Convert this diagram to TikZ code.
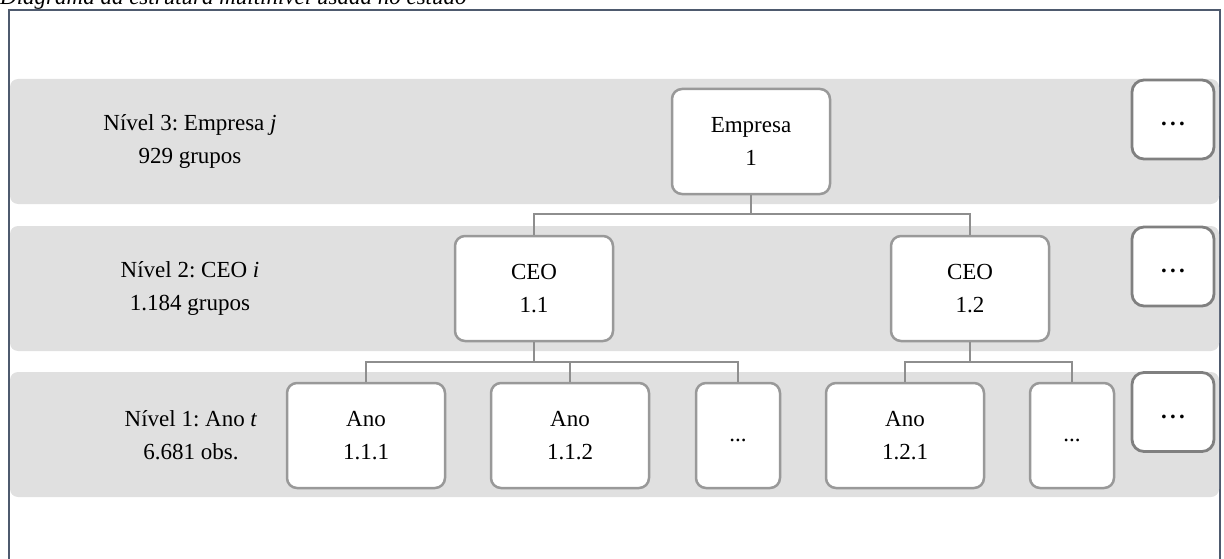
\documentclass[tikz,border=0pt]{standalone}
\usepackage{fontspec}
\setmainfont{Liberation Serif}
\frenchspacing
\begin{document}
\begin{tikzpicture}[x=1pt,y=-1pt,
  band/.style={fill=bandgray,rounded corners=8pt},
  unit/.style={draw=boxgray,line width=2.5pt,fill=white,rounded corners=10pt,
    minimum width=158pt,minimum height=105pt,inner sep=0pt,align=center,
    font=\fontsize{23}{33}\selectfont},
  dotbox/.style={unit,minimum width=84pt},
  morebox/.style={draw=moregray,line width=2.8pt,fill=white,rounded corners=12pt,
    minimum width=82pt,minimum height=79pt,inner sep=0pt,
    font=\fontsize{23}{33}\selectfont},
  lvl/.style={align=center,inner sep=0pt,font=\fontsize{23}{33}\selectfont},
  conn/.style={draw=linegray,line width=2.4pt}]
\definecolor{bandgray}{HTML}{E0E0E0}
\definecolor{boxgray}{HTML}{999999}
\definecolor{moregray}{HTML}{808080}
\definecolor{linegray}{HTML}{8E8E8E}
\definecolor{framecol}{HTML}{4E5A6E}
\useasboundingbox (0,0) rectangle (1224,559);
% title (partly cut off)
\node[anchor=base west,inner sep=0pt,font=\fontsize{23}{28}\selectfont\itshape] (title) at (0,4.5)
  {Diagrama da estrutura multinível usada no estudo};
% frame
\draw[draw=framecol,line width=2pt] (9,10) rectangle (1220,640);
% bands
\fill[band] (10,79) rectangle (1219,204);
\fill[band] (10,226) rectangle (1219,351);
\fill[band] (10,372) rectangle (1219,497);
% level labels
\node[lvl] (lab3) at (190,141.5) {Nível 3: Empresa \textit{j}\\929 grupos};
\node[lvl] (lab2) at (190,288.5) {Nível 2: CEO \textit{i}\\1.184 grupos};
\node[lvl] (lab1) at (191,435) {Nível 1: Ano \textit{t}\\6.681 obs.};
% nodes
\node[unit] (emp) at (751,141.5) {Empresa\\1};
\node[unit] (ceo1) at (534,288.5) {CEO\\1.1};
\node[unit] (ceo2) at (970,288.5) {CEO\\1.2};
\node[unit] (a111) at (366,435.5) {Ano\\1.1.1};
\node[unit] (a112) at (570,435.5) {Ano\\1.1.2};
\node[dotbox] (d11) at (738,435.5) {\raisebox{-6pt}[0pt][0pt]{...}};
\node[unit] (a121) at (905,435.5) {Ano\\1.2.1};
\node[dotbox] (d12) at (1072,435.5) {\raisebox{-6pt}[0pt][0pt]{...}};
\node[morebox] (m3) at (1173,119.5) {\raisebox{-6pt}[0pt][0pt]{\textbf{.\hspace{3.2pt}.\hspace{3.2pt}.}}};
\node[morebox] (m2) at (1173,266.5) {\raisebox{-6pt}[0pt][0pt]{\textbf{.\hspace{3.2pt}.\hspace{3.2pt}.}}};
\node[morebox] (m1) at (1173,412) {\raisebox{-6pt}[0pt][0pt]{\textbf{.\hspace{3.2pt}.\hspace{3.2pt}.}}};
% connectors
\coordinate (h3) at (0,214);
\coordinate (h2) at (0,362);
\draw[conn] (emp.south) -- (emp.south |- h3) -| (ceo1.north);
\draw[conn] (emp.south |- h3) -| (ceo2.north);
\draw[conn] (ceo1.south) -- (ceo1.south |- h2) -| (a111.north);
\draw[conn] (ceo1.south |- h2) -| (a112.north);
\draw[conn] (ceo1.south |- h2) -| (d11.north);
\draw[conn] (ceo2.south) -- (ceo2.south |- h2) -| (a121.north);
\draw[conn] (ceo2.south |- h2) -| (d12.north);
\end{tikzpicture}
\end{document}
